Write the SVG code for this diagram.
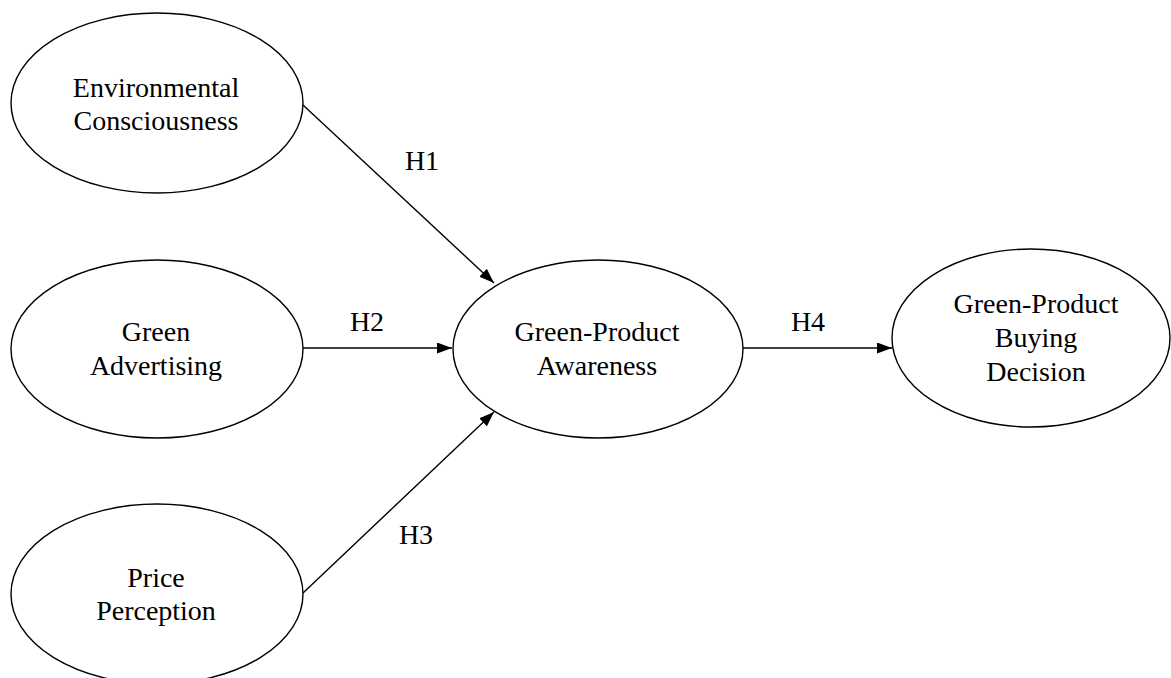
<svg xmlns="http://www.w3.org/2000/svg" width="1171" height="678" viewBox="0 0 1171 678">
<style>
.node ellipse{fill:#fff;stroke:#000;stroke-width:1.4}
text{font-family:"Liberation Serif","Times New Roman",serif;font-size:28px;fill:#000;text-anchor:middle}
.conn line{stroke:#000;stroke-width:1.4}
</style>
<defs>
<marker id="arr" viewBox="0 0 15 11" refX="15" refY="5.5" markerWidth="15" markerHeight="11" markerUnits="userSpaceOnUse" orient="auto">
<path d="M0,0 L15,5.5 L0,11 Z" fill="#000"/>
</marker>
</defs>
<rect width="1171" height="678" fill="#fff"/>
<g id="n-env" class="node">
<ellipse cx="157" cy="103" rx="146" ry="90"/>
<text x="156" y="97">Environmental</text>
<text x="156" y="130">Consciousness</text>
</g>
<g id="n-adv" class="node">
<ellipse cx="157" cy="349" rx="146" ry="89"/>
<text x="156" y="341">Green</text>
<text x="156" y="375">Advertising</text>
</g>
<g id="n-price" class="node">
<ellipse cx="157" cy="594" rx="146" ry="90"/>
<text x="156" y="587">Price</text>
<text x="156" y="620">Perception</text>
</g>
<g id="n-aware" class="node">
<ellipse cx="598" cy="349" rx="145" ry="89"/>
<text x="597" y="341">Green-Product</text>
<text x="597" y="375">Awareness</text>
</g>
<g id="n-buy" class="node">
<ellipse cx="1031" cy="338" rx="139" ry="89"/>
<text x="1036" y="313">Green-Product</text>
<text x="1036" y="347">Buying</text>
<text x="1036" y="381">Decision</text>
</g>
<g id="connectors" class="conn">
<line x1="303" y1="105" x2="494" y2="283" marker-end="url(#arr)"/>
<line x1="303" y1="348" x2="452" y2="348" marker-end="url(#arr)"/>
<line x1="303" y1="593" x2="494" y2="412" marker-end="url(#arr)"/>
<line x1="743" y1="348" x2="892" y2="348" marker-end="url(#arr)"/>
<text x="422" y="170">H1</text>
<text x="367" y="331">H2</text>
<text x="416" y="544">H3</text>
<text x="808" y="331">H4</text>
</g>
</svg>
